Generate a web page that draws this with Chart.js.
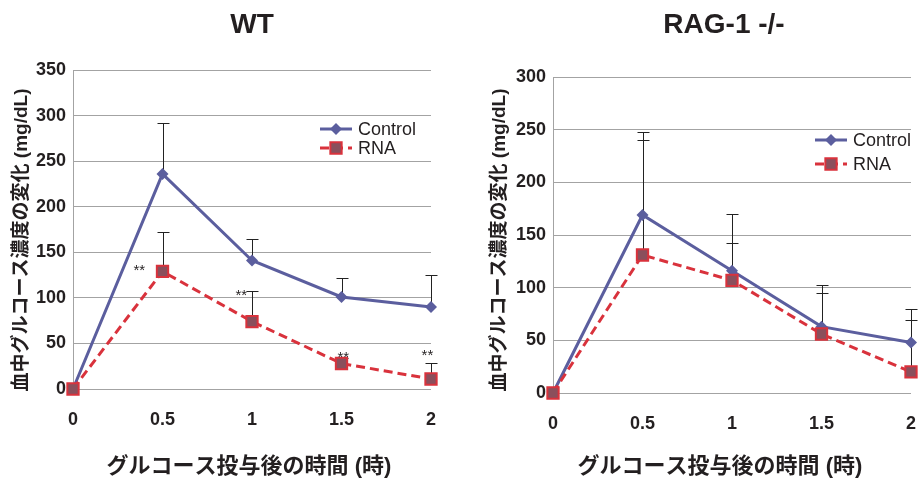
<!DOCTYPE html>
<html>
<head>
<meta charset="utf-8">
<script src="https://cdn.jsdelivr.net/npm/chart.js@4.4.0/dist/chart.umd.min.js"></script>
<style>
    body { margin: 0; background: #fff; }
    .wrap { position: absolute; top: 0; height: 482px; }
    #wrapWT { left: 0; width: 460px; }
    #wrapRAG { left: 460px; width: 461px; }
</style>
</head>
<body>
<div class="wrap" id="wrapWT"><canvas id="chartWT"></canvas></div>
<div class="wrap" id="wrapRAG"><canvas id="chartRAG"></canvas></div>
<script>
// Data (glucose change, mg/dL) by hours after glucose dose
const times = [0, 0.5, 1, 1.5, 2];

const wtControl = [0, 236, 141, 101, 90];
const wtControlSD = [0, 56, 24, 21, 35];
const wtRNA = [0, 129, 74, 28, 11];
const wtRNASD = [0, 43, 33, 6, 18];

const ragControl = [0, 169, 116, 63, 48];
const ragControlSD = [0, 79, 54, 40, 32];
const ragRNA = [0, 131, 107, 56, 20];
const ragRNASD = [0, 109, 35, 39, 49];

// ** marks on the WT chart (x in hours, y in mg/dL)
const sigX = [0.37, 0.94, 1.51, 1.98];
const sigY = [133, 105, 38, 40];

const FONT = "'Liberation Sans', Arial, 'Noto Sans CJK JP', sans-serif";
const TEXT = '#231f20';
const CONTROL = '#5b5e9e';
const RNA = '#d9323c';
const RNA_FILL = '#8a4f5c';
const GRID = '#a3a3a3';

const xTitle = 'グルコース投与後の時間 (時)';
const yTitle = '血中グルコース濃度の変化 (mg/dL)';

// Upper-only error bars drawn under the lines
const errorBars = {
    id: 'errorBars',
    beforeDatasetsDraw(chart) {
        const { ctx, scales: { x, y } } = chart;
        ctx.save();
        ctx.strokeStyle = '#222';
        ctx.lineWidth = 1;
        chart.data.datasets.forEach(ds => {
            if (!ds.errorPlus) return;
            ds.data.forEach((pt, i) => {
                const err = ds.errorPlus[i];
                if (!err) return;
                const px = Math.round(x.getPixelForValue(pt.x)) + 0.5;
                const y0 = y.getPixelForValue(pt.y);
                const y1 = Math.round(y.getPixelForValue(pt.y + err)) + 0.5;
                ctx.beginPath();
                ctx.moveTo(px, y0);
                ctx.lineTo(px, y1);
                ctx.moveTo(px - 6, y1);
                ctx.lineTo(px + 6, y1);
                ctx.stroke();
            });
        });
        ctx.restore();
    }
};

// Titles, legend and significance marks
const decorations = {
    id: 'decorations',
    afterDraw(chart, args, opts) {
        const { ctx, scales: { x, y } } = chart;
        ctx.save();
        ctx.fillStyle = TEXT;
        ctx.textAlign = 'center';
        ctx.textBaseline = 'middle';

        ctx.font = `bold 28px ${FONT}`;
        ctx.fillText(opts.title, opts.titleX, opts.titleY);

        ctx.font = `bold 22px ${FONT}`;
        ctx.fillText(xTitle, opts.xTitleX, opts.xTitleY);

        ctx.save();
        ctx.translate(opts.yTitleX, opts.yTitleY);
        ctx.rotate(-Math.PI / 2);
        ctx.font = `bold 19px ${FONT}`;
        ctx.fillText(yTitle, 0, 0);
        ctx.restore();

        // legend
        chart.data.datasets.forEach((ds, i) => {
            const ly = opts.legendY + i * opts.legendGap;
            const lx = opts.legendX;
            ctx.save();
            ctx.strokeStyle = ds.borderColor;
            ctx.lineWidth = ds.borderWidth;
            ctx.setLineDash(ds.borderDash || []);
            ctx.beginPath();
            ctx.moveTo(lx, ly);
            ctx.lineTo(lx + 32, ly);
            ctx.stroke();
            ctx.setLineDash([]);
            ctx.fillStyle = ds.pointBackgroundColor || ds.borderColor;
            ctx.strokeStyle = ds.pointBorderColor || ds.borderColor;
            ctx.lineWidth = ds.pointBorderWidth;
            Chart.helpers.drawPoint(ctx, {
                pointStyle: ds.pointStyle,
                radius: ds.pointRadius,
                rotation: 0,
                borderWidth: ds.pointBorderWidth
            }, lx + 16, ly);
            ctx.restore();
            ctx.textAlign = 'left';
            ctx.font = `18px ${FONT}`;
            ctx.fillText(ds.label, lx + 38, ly + 1);
        });

        if (opts.marks) {
            ctx.textAlign = 'center';
            ctx.font = `15px ${FONT}`;
            opts.marks.x.forEach((v, i) => {
                ctx.fillText('**', x.getPixelForValue(v), y.getPixelForValue(opts.marks.y[i]) + 3);
            });
        }
        ctx.restore();
    }
};

function toPoints(values) {
    return times.map((t, i) => ({ x: t, y: values[i] }));
}

function makeChart(id, cfg) {
    return new Chart(document.getElementById(id), {
        type: 'line',
        data: {
            datasets: [
                {
                    label: 'Control',
                    data: toPoints(cfg.control),
                    errorPlus: cfg.controlSD,
                    borderColor: CONTROL,
                    backgroundColor: CONTROL,
                    pointBackgroundColor: CONTROL,
                    pointBorderColor: CONTROL,
                    borderWidth: 3,
                    pointStyle: 'rectRot',
                    pointRadius: 6,
                    pointBorderWidth: 0,
                    tension: 0,
                    clip: false,
                    order: 1
                },
                {
                    label: 'RNA',
                    data: toPoints(cfg.rna),
                    errorPlus: cfg.rnaSD,
                    borderColor: RNA,
                    backgroundColor: RNA_FILL,
                    pointBackgroundColor: RNA_FILL,
                    pointBorderColor: RNA,
                    borderWidth: 3,
                    borderDash: [9, 5],
                    pointStyle: 'rect',
                    pointRadius: 8,
                    pointBorderWidth: 2,
                    tension: 0,
                    clip: false,
                    order: 0
                }
            ]
        },
        options: {
            responsive: true,
            maintainAspectRatio: false,
            animation: false,
            layout: { padding: cfg.padding },
            plugins: {
                legend: { display: false },
                tooltip: { enabled: false },
                decorations: cfg.deco
            },
            scales: {
                x: {
                    type: 'linear',
                    min: 0,
                    max: 2,
                    ticks: {
                        stepSize: 0.5,
                        padding: 20,
                        color: TEXT,
                        font: { family: FONT, size: 18, weight: 'bold' },
                        callback: v => String(v)
                    },
                    grid: { display: false, drawTicks: false },
                    border: { display: false },
                    afterFit: s => {
                        s.height = cfg.xHeight;
                        s.paddingLeft = 0;
                        s.paddingRight = 0;
                    }
                },
                y: {
                    min: 0,
                    max: cfg.yMax,
                    ticks: {
                        stepSize: 50,
                        padding: 7,
                        color: TEXT,
                        font: { family: FONT, size: 18, weight: 'bold' }
                    },
                    grid: { color: GRID, lineWidth: 1, drawTicks: false },
                    border: { color: GRID },
                    afterFit: s => { s.width = cfg.yWidth; }
                }
            }
        },
        plugins: [errorBars, decorations]
    });
}

makeChart('chartWT', {
    control: wtControl, controlSD: wtControlSD,
    rna: wtRNA, rnaSD: wtRNASD,
    yMax: 350,
    padding: { left: 0, top: 70, right: 29, bottom: 0 },
    yWidth: 73,
    xHeight: 93,
    deco: {
        title: 'WT', titleX: 252, titleY: 25,
        xTitleX: 249, xTitleY: 467,
        yTitleX: 22, yTitleY: 240,
        legendX: 320, legendY: 129, legendGap: 19,
        marks: { x: sigX, y: sigY }
    }
});

makeChart('chartRAG', {
    control: ragControl, controlSD: ragControlSD,
    rna: ragRNA, rnaSD: ragRNASD,
    yMax: 300,
    padding: { left: 0, top: 77, right: 7, bottom: 0 },
    yWidth: 93,
    xHeight: 89,
    deco: {
        title: 'RAG-1 -/-', titleX: 264, titleY: 25,
        xTitleX: 260, xTitleY: 467,
        yTitleX: 40, yTitleY: 240,
        legendX: 355, legendY: 140, legendGap: 24
    }
});
</script>
</body>
</html>
